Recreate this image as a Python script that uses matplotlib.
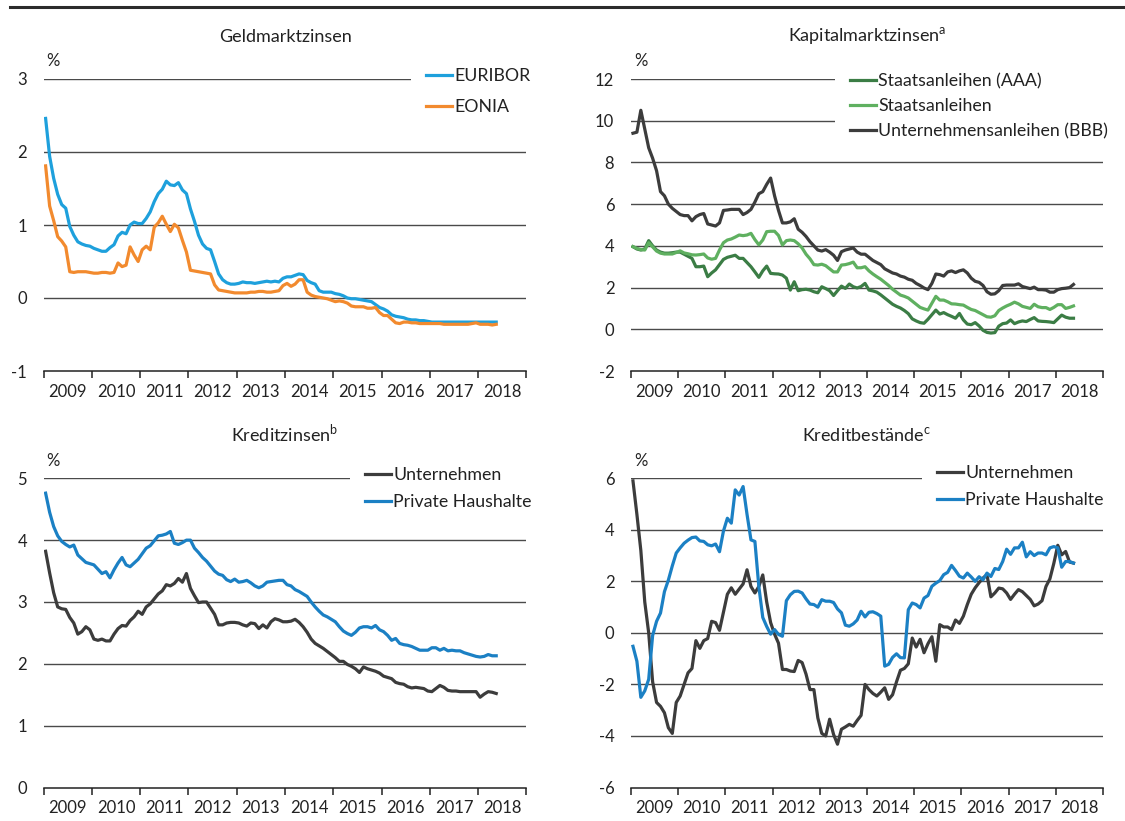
import numpy as np
import pandas as pd
import matplotlib
matplotlib.use("Agg")
import matplotlib.pyplot as plt
from matplotlib.lines import Line2D

plt.rcParams['font.family'] = ['Lato', 'DejaVu Sans']
plt.rcParams['font.size'] = 11
plt.rcParams['mathtext.fontset'] = 'custom'
plt.rcParams['mathtext.rm'] = 'Lato'

# monthly observations, Jan 2009 .. May 2018
months = pd.date_range("2009-01-01", "2018-05-01", freq="MS")

# Geldmarktzinsen
euribor = [2.46, 1.94, 1.64, 1.42, 1.28, 1.23, 0.98, 0.86, 0.77, 0.74, 0.72, 0.71,
           0.68, 0.66, 0.64, 0.64, 0.69, 0.73, 0.85, 0.90, 0.88, 1.00, 1.04, 1.02,
           1.02, 1.09, 1.18, 1.32, 1.43, 1.49, 1.60, 1.55, 1.54, 1.58, 1.48, 1.43,
           1.22, 1.05, 0.86, 0.74, 0.68, 0.66, 0.50, 0.33, 0.25, 0.21, 0.19, 0.19,
           0.20, 0.22, 0.21, 0.21, 0.20, 0.21, 0.22, 0.23, 0.22, 0.23, 0.22, 0.27,
           0.29, 0.29, 0.31, 0.33, 0.32, 0.24, 0.21, 0.19, 0.10, 0.08, 0.08, 0.08,
           0.06, 0.05, 0.03, 0.00, -0.01, -0.01, -0.02, -0.03, -0.04, -0.05, -0.09, -0.13,
           -0.15, -0.18, -0.23, -0.25, -0.26, -0.27, -0.29, -0.30, -0.30, -0.31, -0.31, -0.32,
           -0.33, -0.33, -0.33, -0.33, -0.33, -0.33, -0.33, -0.33, -0.33, -0.33, -0.33, -0.33,
           -0.33, -0.33, -0.33, -0.33, -0.33]
eonia = [1.81, 1.26, 1.06, 0.84, 0.78, 0.70, 0.36, 0.35, 0.36, 0.36, 0.36, 0.35,
         0.34, 0.34, 0.35, 0.35, 0.34, 0.35, 0.48, 0.43, 0.45, 0.70, 0.59, 0.50,
         0.66, 0.71, 0.66, 0.97, 1.03, 1.12, 1.01, 0.91, 1.01, 0.96, 0.79, 0.63,
         0.38, 0.37, 0.36, 0.35, 0.34, 0.33, 0.18, 0.11, 0.10, 0.09, 0.08, 0.07,
         0.07, 0.07, 0.07, 0.08, 0.08, 0.09, 0.09, 0.08, 0.08, 0.09, 0.10, 0.17,
         0.20, 0.16, 0.19, 0.25, 0.25, 0.08, 0.04, 0.02, 0.01, 0.00, -0.01, -0.03,
         -0.05, -0.04, -0.05, -0.07, -0.11, -0.12, -0.12, -0.12, -0.14, -0.14, -0.13, -0.20,
         -0.24, -0.24, -0.29, -0.34, -0.35, -0.33, -0.33, -0.34, -0.34, -0.35, -0.35, -0.35,
         -0.35, -0.35, -0.35, -0.36, -0.36, -0.36, -0.36, -0.36, -0.36, -0.36, -0.35, -0.34,
         -0.36, -0.36, -0.36, -0.37, -0.36]

# Kapitalmarktzinsen
gov_aaa = [3.96, 3.85, 3.80, 3.85, 4.25, 4.00, 3.80, 3.70, 3.65, 3.65, 3.67, 3.70,
           3.70, 3.60, 3.50, 3.40, 3.00, 3.00, 3.03, 2.52, 2.70, 2.85, 3.10, 3.35,
           3.45, 3.50, 3.55, 3.40, 3.40, 3.20, 3.00, 2.75, 2.49, 2.80, 3.03, 2.68,
           2.66, 2.65, 2.60, 2.45, 1.88, 2.28, 1.85, 1.90, 1.92, 1.88, 1.80, 1.75,
           2.04, 1.95, 1.85, 1.62, 1.85, 2.07, 1.96, 2.17, 2.04, 1.98, 2.05, 2.20,
           1.88, 1.84, 1.78, 1.65, 1.50, 1.35, 1.20, 1.10, 1.02, 0.90, 0.75, 0.50,
           0.40, 0.32, 0.29, 0.48, 0.70, 0.92, 0.73, 0.80, 0.70, 0.62, 0.53, 0.76,
           0.45, 0.25, 0.22, 0.32, 0.16, -0.05, -0.15, -0.18, -0.16, 0.15, 0.27, 0.30,
           0.45, 0.27, 0.35, 0.40, 0.37, 0.47, 0.56, 0.40, 0.38, 0.37, 0.35, 0.32,
           0.50, 0.68, 0.58, 0.53, 0.53]
gov_all = [3.96, 3.88, 3.82, 3.80, 4.15, 3.95, 3.75, 3.65, 3.61, 3.61, 3.61, 3.68,
           3.76, 3.66, 3.62, 3.57, 3.56, 3.58, 3.61, 3.42, 3.36, 3.40, 3.80, 4.15,
           4.28, 4.33, 4.42, 4.52, 4.49, 4.52, 4.60, 4.30, 4.05, 4.28, 4.68, 4.70,
           4.70, 4.50, 4.04, 4.25, 4.28, 4.25, 4.10, 3.90, 3.60, 3.38, 3.10, 3.08,
           3.12, 3.05, 2.90, 2.75, 2.75, 3.08, 3.10, 3.15, 3.22, 2.95, 2.95, 3.00,
           2.80, 2.65, 2.52, 2.40, 2.25, 2.10, 1.92, 1.78, 1.64, 1.58, 1.50, 1.35,
           1.20, 1.05, 0.98, 0.92, 1.25, 1.58, 1.40, 1.40, 1.32, 1.22, 1.21, 1.18,
           1.16, 1.05, 0.95, 0.90, 0.80, 0.70, 0.60, 0.58, 0.65, 0.90, 1.02, 1.12,
           1.20, 1.30, 1.22, 1.10, 1.05, 1.00, 1.20, 1.08, 1.04, 1.04, 0.95, 1.05,
           1.18, 1.18, 1.00, 1.05, 1.12]
corp_bbb = [9.40, 9.45, 10.50, 9.60, 8.70, 8.20, 7.60, 6.60, 6.40, 6.00, 5.80, 5.65,
            5.50, 5.45, 5.45, 5.20, 5.40, 5.50, 5.55, 5.05, 5.00, 4.95, 5.10, 5.70,
            5.72, 5.75, 5.75, 5.75, 5.50, 5.60, 5.75, 6.10, 6.50, 6.60, 6.95, 7.25,
            6.40, 5.70, 5.10, 5.10, 5.15, 5.30, 4.80, 4.65, 4.45, 4.20, 4.00, 3.80,
            3.75, 3.82, 3.70, 3.55, 3.30, 3.72, 3.80, 3.85, 3.90, 3.70, 3.60, 3.60,
            3.45, 3.30, 3.20, 3.10, 2.90, 2.80, 2.70, 2.65, 2.55, 2.50, 2.40, 2.35,
            2.20, 2.10, 1.98, 1.90, 2.20, 2.65, 2.62, 2.55, 2.75, 2.80, 2.72, 2.80,
            2.85, 2.70, 2.45, 2.30, 2.25, 2.10, 1.80, 1.68, 1.70, 1.85, 2.10, 2.12,
            2.12, 2.12, 2.18, 2.05, 2.00, 1.95, 2.02, 1.90, 1.90, 1.88, 1.78, 1.78,
            1.90, 1.95, 1.97, 2.00, 2.15]

# Kreditzinsen
rate_firms = [3.82, 3.47, 3.15, 2.92, 2.89, 2.88, 2.75, 2.66, 2.48, 2.52, 2.60, 2.55,
              2.40, 2.38, 2.40, 2.37, 2.37, 2.48, 2.57, 2.62, 2.61, 2.70, 2.76, 2.85,
              2.80, 2.92, 2.97, 3.05, 3.13, 3.18, 3.28, 3.26, 3.30, 3.38, 3.32, 3.46,
              3.22, 3.10, 2.99, 3.00, 3.00, 2.90, 2.80, 2.63, 2.63, 2.66, 2.67, 2.67,
              2.66, 2.63, 2.61, 2.66, 2.65, 2.57, 2.63, 2.58, 2.68, 2.73, 2.71, 2.68,
              2.68, 2.69, 2.72, 2.67, 2.60, 2.51, 2.40, 2.33, 2.29, 2.25, 2.20, 2.15,
              2.10, 2.04, 2.04, 1.99, 1.96, 1.92, 1.86, 1.95, 1.92, 1.90, 1.88, 1.85,
              1.80, 1.78, 1.76, 1.70, 1.68, 1.67, 1.63, 1.61, 1.62, 1.61, 1.60, 1.56,
              1.55, 1.60, 1.65, 1.62, 1.57, 1.56, 1.56, 1.55, 1.55, 1.55, 1.55, 1.55,
              1.46, 1.51, 1.55, 1.54, 1.52]
rate_households = [4.76, 4.45, 4.22, 4.07, 3.98, 3.93, 3.89, 3.92, 3.76, 3.70, 3.64, 3.62,
                   3.60, 3.53, 3.46, 3.49, 3.39, 3.52, 3.63, 3.72, 3.60, 3.57, 3.63, 3.69,
                   3.78, 3.87, 3.91, 3.99, 4.07, 4.08, 4.10, 4.14, 3.95, 3.93, 3.96, 4.00,
                   4.00, 3.87, 3.80, 3.72, 3.66, 3.58, 3.50, 3.45, 3.43, 3.36, 3.33, 3.37,
                   3.32, 3.33, 3.35, 3.31, 3.26, 3.23, 3.26, 3.32, 3.33, 3.34, 3.35, 3.35,
                   3.28, 3.26, 3.20, 3.17, 3.13, 3.09, 3.00, 2.92, 2.85, 2.79, 2.76, 2.72,
                   2.68, 2.60, 2.53, 2.49, 2.46, 2.51, 2.58, 2.60, 2.60, 2.58, 2.62, 2.55,
                   2.52, 2.46, 2.38, 2.41, 2.33, 2.31, 2.30, 2.28, 2.25, 2.22, 2.22, 2.22,
                   2.26, 2.26, 2.22, 2.25, 2.21, 2.22, 2.21, 2.21, 2.18, 2.16, 2.14, 2.12,
                   2.11, 2.12, 2.15, 2.13, 2.13]

# Kreditbestände
loans_firms = [5.90, 4.60, 3.20, 1.20, 0.00, -1.90, -2.70, -2.85, -3.10, -3.68, -3.90, -2.70,
               -2.45, -2.00, -1.55, -1.38, -0.30, -0.60, -0.30, -0.22, 0.45, 0.40, 0.10, 0.80,
               1.50, 1.75, 1.50, 1.70, 1.90, 2.45, 1.80, 1.55, 1.80, 2.25, 1.20, 0.40,
               -0.05, -0.40, -1.42, -1.42, -1.48, -1.50, -1.07, -1.15, -1.60, -2.20, -2.20, -3.30,
               -3.90, -4.00, -3.35, -3.94, -4.32, -3.74, -3.65, -3.55, -3.62, -3.40, -3.20, -2.00,
               -2.20, -2.35, -2.45, -2.30, -2.13, -2.58, -2.40, -1.90, -1.45, -1.38, -1.20, -0.20,
               -0.55, -0.25, -0.77, -0.42, -0.15, -1.10, 0.32, 0.23, 0.23, 0.13, 0.50, 0.37,
               0.65, 1.10, 1.50, 1.75, 1.95, 2.13, 2.26, 1.40, 1.55, 1.74, 1.71, 1.55,
               1.30, 1.50, 1.68, 1.60, 1.45, 1.30, 1.05, 1.12, 1.25, 1.80, 2.10, 2.70,
               3.40, 3.03, 3.16, 2.75, 2.71]
loans_households = [-0.52, -1.10, -2.50, -2.25, -1.80, -0.10, 0.45, 0.77, 1.60, 2.05, 2.60, 3.10,
                    3.30, 3.48, 3.60, 3.70, 3.72, 3.57, 3.55, 3.42, 3.38, 3.45, 3.15, 3.95,
                    4.45, 4.26, 5.55, 5.35, 5.68, 4.60, 3.61, 3.55, 1.80, 0.60, 0.25, -0.05,
                    0.13, -0.06, -0.13, 1.25, 1.48, 1.61, 1.62, 1.55, 1.32, 1.12, 1.10, 1.00,
                    1.29, 1.23, 1.23, 1.18, 0.93, 0.78, 0.30, 0.26, 0.35, 0.50, 0.84, 0.62,
                    0.80, 0.82, 0.75, 0.65, -1.29, -1.22, -0.95, -0.81, -0.96, -0.97, 0.90, 1.16,
                    1.10, 0.97, 1.35, 1.45, 1.81, 1.93, 2.03, 2.26, 2.35, 2.62, 2.42, 2.20,
                    2.13, 2.32, 2.17, 2.00, 2.18, 2.06, 2.32, 2.19, 2.50, 2.46, 2.77, 3.25,
                    3.05, 3.30, 3.30, 3.52, 2.95, 3.15, 3.00, 3.10, 3.10, 3.03, 3.30, 3.35,
                    3.30, 2.55, 2.77, 2.77, 2.71]

years = list(range(2009, 2019))

BLUE_LIGHT = "#1ea0dc"
ORANGE = "#f28a2e"
GREEN_DARK = "#3b7d45"
GREEN_LIGHT = "#5fb060"
GREY = "#3c3c3c"
BLUE = "#1b80c4"
TEXT = "#222222"

x = months.year + (months.month - 0.5) / 12.0

W, H = 1125, 821
fig = plt.figure(figsize=(W / 100, H / 100), dpi=100)

# thin rule at the top of the page
fig.add_artist(Line2D([10 / W, 1.0], [1 - 7 / H, 1 - 7 / H], color="#2b2b2b", lw=2.2))


def make_panel(rect, ylim, ystep, title, series, legend_px, spacing):
    left, top, right, bottom = rect
    ax = fig.add_axes([left / W, 1 - bottom / H, (right - left) / W, (bottom - top) / H])
    ax.set_xlim(2009, 2019)
    ax.set_ylim(*ylim)
    ticks = np.arange(ylim[0], ylim[1] + 0.001, ystep)
    ax.set_yticks(ticks)
    ax.set_yticklabels([f"{t:g}" for t in ticks])
    for t in ticks[1:]:
        ax.axhline(t, color="#4a4a4a", lw=1.0, zorder=1)
    for s in ("left", "right", "top"):
        ax.spines[s].set_visible(False)
    ax.spines["bottom"].set_color(TEXT)
    ax.spines["bottom"].set_linewidth(1.1)
    ax.tick_params(axis="y", length=0, pad=12, labelsize=12, colors=TEXT)
    ax.set_xticks(range(2009, 2020))
    ax.set_xticklabels([])
    ax.set_xticks([y + 0.5 for y in years], minor=True)
    ax.set_xticklabels([str(y) for y in years], minor=True)
    ax.tick_params(axis="x", which="major", length=5, width=1.1, direction="out", color=TEXT)
    ax.tick_params(axis="x", which="minor", length=0, pad=9, labelsize=12, colors=TEXT)
    for label, vals, col in series:
        ax.plot(x, vals, color=col, lw=2.3, label=label, zorder=3, solid_joinstyle="round")
    ax.set_title(title, fontsize=13, pad=27, color=TEXT)
    ax.annotate("%", xy=(0, 1), xycoords="axes fraction", xytext=(7, 7),
                textcoords="offset points", ha="center", va="bottom", fontsize=12, color=TEXT)
    lx, ly = legend_px
    leg = ax.legend(loc="upper left", bbox_to_anchor=(lx / W, 1 - ly / H),
                    bbox_transform=fig.transFigure, frameon=True, fancybox=False,
                    borderpad=0.85, handlelength=1.45, handletextpad=0.12,
                    labelspacing=spacing, fontsize=12.8, borderaxespad=0)
    leg.get_frame().set_facecolor("white")
    leg.get_frame().set_edgecolor("none")
    leg.get_frame().set_alpha(1)
    leg.set_zorder(5)
    for t in leg.get_texts():
        t.set_color(TEXT)
    return ax


make_panel((43.6, 79, 526.4, 371), (-1, 3), 1, "Geldmarktzinsen",
           [("EURIBOR", euribor, BLUE_LIGHT), ("EONIA", eonia, ORANGE)], (411, 53), 0.85)
make_panel((631, 79, 1103, 371), (-2, 12), 2, r"Kapitalmarktzinsen$^{\mathrm{a}}$",
           [("Staatsanleihen (AAA)", gov_aaa, GREEN_DARK),
            ("Staatsanleihen", gov_all, GREEN_LIGHT),
            ("Unternehmensanleihen (BBB)", corp_bbb, GREY)], (835, 58), 0.5)
make_panel((43.6, 478.3, 526.4, 787.5), (0, 5), 1, r"Kreditzinsen$^{\mathrm{b}}$",
           [("Unternehmen", rate_firms, GREY), ("Private Haushalte", rate_households, BLUE)],
           (350, 452), 0.6)
make_panel((631, 478.3, 1103, 787.5), (-6, 6), 2, r"Kreditbestände$^{\mathrm{c}}$",
           [("Unternehmen", loans_firms, GREY), ("Private Haushalte", loans_households, BLUE)],
           (922, 450), 0.6)

fig.savefig("out.png", dpi=100)
